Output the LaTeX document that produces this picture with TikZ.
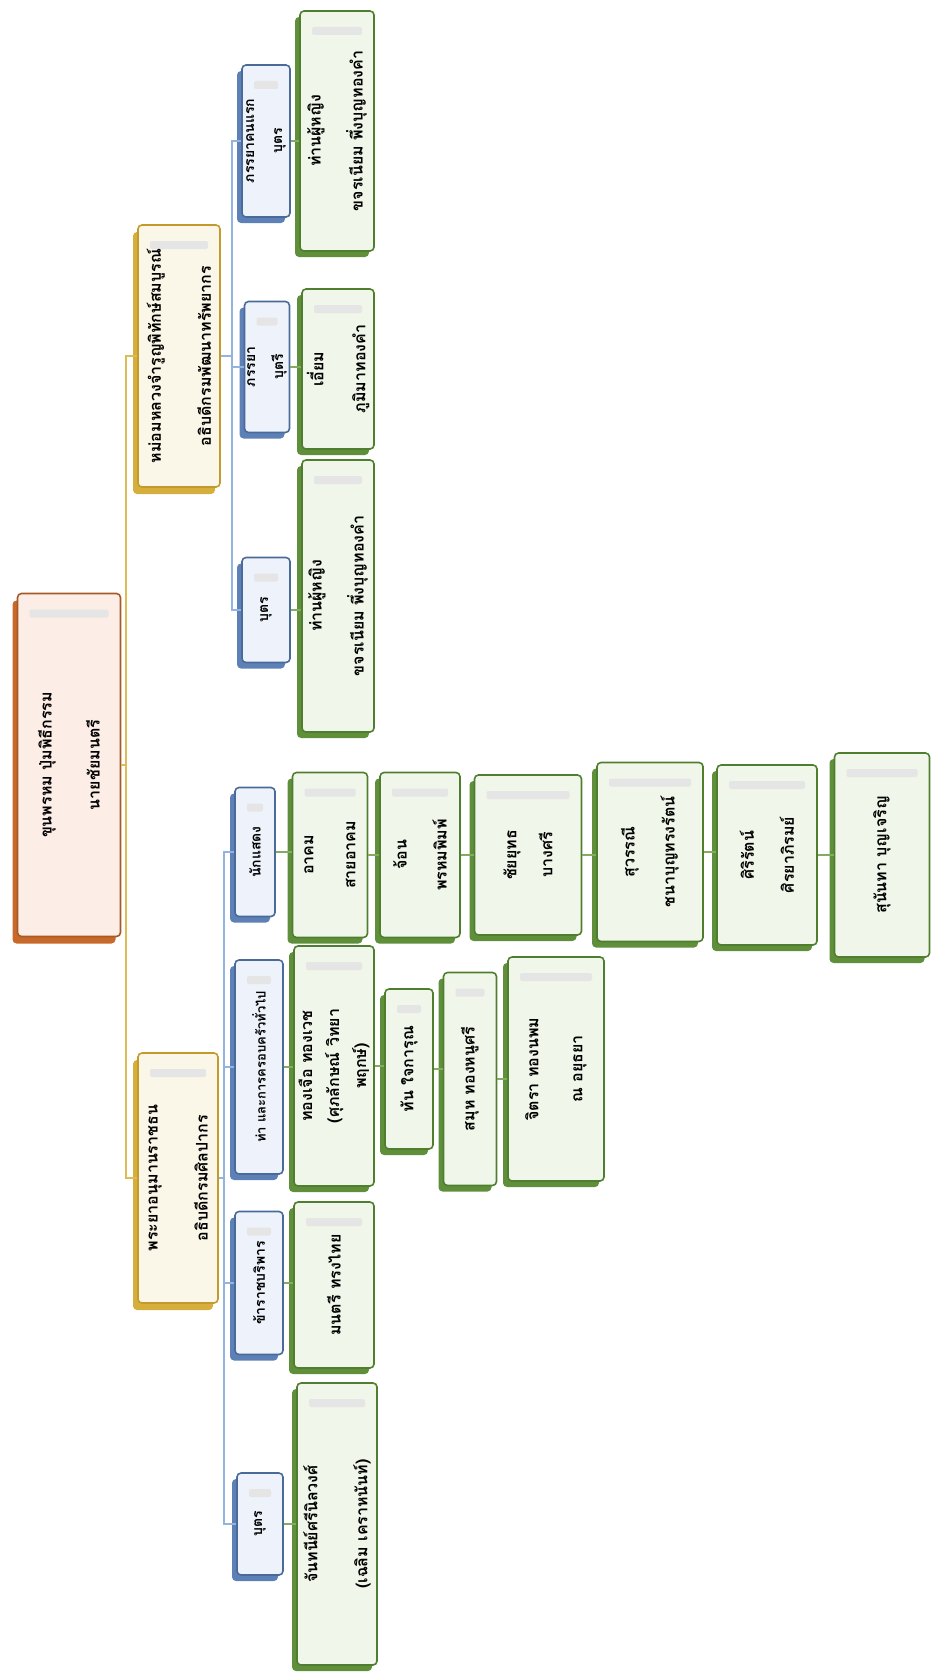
\documentclass[tikz,border=0pt]{standalone}
\usepackage{fontspec}
\newfontfamily\thaifont[Script=Thai]{Loma}
\usetikzlibrary{shadows}

\definecolor{rootline}{HTML}{A65A28}
\definecolor{rootfill}{HTML}{FCEEE6}
\definecolor{rootshade}{HTML}{C8682A}
\definecolor{headline}{HTML}{C49A2C}
\definecolor{headfill}{HTML}{FBF7E8}
\definecolor{headshade}{HTML}{D6AE3C}
\definecolor{roleline}{HTML}{4A6A99}
\definecolor{rolefill}{HTML}{EEF3FB}
\definecolor{roleshade}{HTML}{5D80B6}
\definecolor{nameline}{HTML}{4F7F2E}
\definecolor{namefill}{HTML}{F0F6E9}
\definecolor{nameshade}{HTML}{5F8F3B}
\definecolor{goldlink}{HTML}{DDBB55}
\definecolor{bluelink}{HTML}{94B4E0}
\definecolor{greenlink}{HTML}{84AC60}

% lines of a card, turned to read upwards, \linegap apart
\newcommand{\linegap}{42pt}
\newcommand{\vlines}[1]{\rotatebox{90}{\vbox{\baselineskip=\linegap
  \lineskiplimit=-100pt \lineskip=0pt \let\\=\cr
  \halign{\hfil##\hfil\cr#1\crcr}}}}

\tikzset{
  card/.style={draw, line width=1.6pt, rounded corners=4pt, inner sep=0pt,
    font=\thaifont\bfseries\fontsize{16}{19}\selectfont,
    path picture={\fill[gray!20, rounded corners=2pt]
      ([xshift=12pt,yshift=-16pt]path picture bounding box.north west) rectangle
      ([xshift=-12pt,yshift=-24pt]path picture bounding box.north east);}},
  dims/.style 2 args={minimum width=#1pt, minimum height=#2pt},
  gap/.style={execute at begin node={\renewcommand{\linegap}{#1}}},
  rootbox/.style={card, gap=48pt, draw=rootline, fill=rootfill,
    general shadow={fill=rootshade, shadow xshift=-5pt, shadow yshift=-7pt}},
  headbox/.style={card, gap=50pt, draw=headline, fill=headfill,
    general shadow={fill=headshade, shadow xshift=-5pt, shadow yshift=-7pt}},
  rolebox/.style={card, gap=28pt, draw=roleline, fill=rolefill,
    font=\thaifont\bfseries\fontsize{14}{17}\selectfont,
    general shadow={fill=roleshade, shadow xshift=-5pt, shadow yshift=-6pt}},
  namebox/.style={card, gap=42pt, draw=nameline, fill=namefill,
    general shadow={fill=nameshade, shadow xshift=-5pt, shadow yshift=-6pt}},
  goldline/.style={draw=goldlink, line width=1.4pt},
  blueline/.style={draw=bluelink, line width=1.6pt},
  greenline/.style={draw=greenlink, line width=1.8pt}
}

\begin{document}
\begin{tikzpicture}[x=1pt, y=-1pt]
  \useasboundingbox (0,0) rectangle (932,1675);

  \coordinate (rootjoint) at (126,765);
  \coordinate (topjoint) at (232,356);
  \coordinate (lowjoint) at (224,1178);

  % root and the two heads
  \node[rootbox, dims={103}{343}] (root) at (69,765)
    {\vlines{ขุนพรหม ปุ่มพิธีกรรม\\นายชัยมนตรี}};
  \node[headbox, dims={82}{262}] (headA) at (179,356)
    {\vlines{หม่อมหลวงจำรูญพิทักษ์สมบูรณ์\\อธิบดีกรมพัฒนาทรัพยากร}};
  \node[headbox, dims={80}{250}] (headB) at (178,1178)
    {\vlines{พระยาอนุมานราชธน\\อธิบดีกรมศิลปากร}};

  % upper branch
  \node[rolebox, dims={48}{152}] (wifeA) at (266,141) {\vlines{ภรรยาคนแรก\\บุตร}};
  \node[rolebox, dims={45}{131}] (wifeB) at (267,367) {\vlines{ภรรยา\\บุตรี}};
  \node[rolebox, dims={48}{105}] (sonA) at (266,610) {\vlines{บุตร}};
  \node[namebox, dims={74}{240}] (ladyA) at (337,131)
    {\vlines{ท่านผู้หญิง\\ขจรเนียม พึ่งบุญทองคำ}};
  \node[namebox, dims={72}{160}] (iam) at (338,369)
    {\vlines{เอี่ยม\\ภูมิมาทองคำ}};
  \node[namebox, dims={72}{272}] (ladyB) at (338,596)
    {\vlines{ท่านผู้หญิง\\ขจรเนียม พึ่งบุญทองคำ}};

  % lower branch
  \node[rolebox, dims={40}{129}] (actor) at (255,852) {\vlines{นักแสดง}};
  \node[rolebox, dims={48}{214}, font=\thaifont\bfseries\fontsize{13}{16}\selectfont]
    (family) at (259,1067) {\vlines{ท่า และการครอบครัวทั่วไป}};
  \node[rolebox, dims={48}{143}] (court) at (259,1283) {\vlines{ข้าราชบริพาร}};
  \node[rolebox, dims={46}{102}] (sonB) at (260,1524) {\vlines{บุตร}};

  \node[namebox, dims={75}{165}] (akom) at (330,855) {\vlines{อาคม\\สายอาคม}};
  \node[namebox, gap=40pt, dims={80}{165}] (jon) at (420,855) {\vlines{จ้อน\\พรหมพิมพ์}};
  \node[namebox, gap=36pt, dims={107}{160}] (chai) at (528,855) {\vlines{ชัยยุทธ\\บางศรี}};
  \node[namebox, gap=40pt, dims={106}{179}] (suwan) at (650,852) {\vlines{สุวรรณี\\ชนาบุญทรงรัตน์}};
  \node[namebox, gap=40pt, dims={100}{180}] (sirirat) at (767,855) {\vlines{ศิริรัตน์\\ศิรยาภิรมย์}};
  \node[namebox, dims={95}{204}] (sunan) at (882,855) {\vlines{สุนันทา บุญเจริญ}};

  \node[namebox, gap=27pt, dims={80}{240}] (thong) at (334,1066)
    {\vlines{ทองเจือ ทองเวช\\(ศุภลักษณ์ วิทยา\\พฤกษ์)}};
  \node[namebox, dims={48}{160}] (than) at (409,1069) {\vlines{ทัน ใจการุณ}};
  \node[namebox, dims={53}{213}] (samu) at (470,1079) {\vlines{สมุห ทองหนูศรี}};
  \node[namebox, gap=44pt, dims={96}{224}] (jitra) at (556,1069)
    {\vlines{จิตรา ทองนพม\\ณ อยุธยา}};
  \node[namebox, dims={80}{166}] (montri) at (334,1285) {\vlines{มนตรี ทรงไทย}};
  \node[namebox, gap=50pt, dims={80}{282}] (chan) at (337,1524)
    {\vlines{จันทนีย์ศรีนิลวงศ์\\(เฉลิม เคราหนันท์)}};

  % links
  \draw[goldline] (root.east) -- (rootjoint) |- (headA.west);
  \draw[goldline] (rootjoint) |- (headB.west);
  \draw[blueline] (headA.east) -- (topjoint);
  \foreach \b in {wifeA,wifeB,sonA} \draw[blueline] (topjoint) |- (\b.west);
  \draw[blueline] (headB.east) -- (lowjoint);
  \foreach \b in {actor,family,court,sonB} \draw[blueline] (lowjoint) |- (\b.west);

  \draw[greenline] (wifeA.east) -- (wifeA.east -| ladyA.west);
  \draw[greenline] (wifeB.east) -- (wifeB.east -| iam.west);
  \draw[greenline] (sonA.east) -- (sonA.east -| ladyB.west);
  \draw[greenline] (actor.east) -- (actor.east -| akom.west);
  \draw[greenline] (family.east) -- (family.east -| thong.west);
  \draw[greenline] (court.east) -- (court.east -| montri.west);
  \draw[greenline] (sonB.east) -- (sonB.east -| chan.west);
  \foreach \a/\b in {akom/jon,jon/chai,chai/suwan,suwan/sirirat,sirirat/sunan,
                     thong/than,than/samu,samu/jitra}
    \draw[greenline] (\a.east) -- (\a.east -| \b.west);
\end{tikzpicture}
\end{document}
